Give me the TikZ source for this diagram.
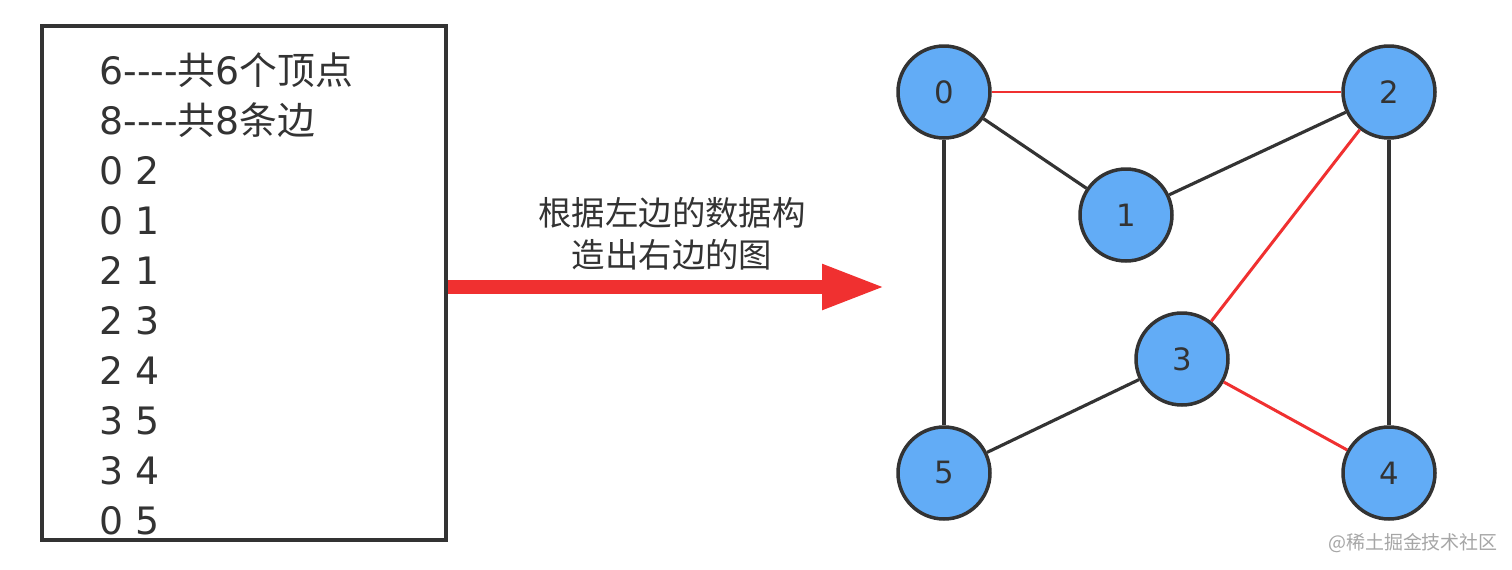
\documentclass[tikz,border=0pt]{standalone}
\usepackage{fontspec}
\setmainfont{DejaVu Sans}
\newfontfamily\cjk{Noto Sans CJK SC}
\usetikzlibrary{arrows.meta}
\definecolor{vblue}{RGB}{98,172,246}
\definecolor{ered}{RGB}{240,48,48}
\definecolor{ink}{RGB}{51,51,51}
\tikzset{
  vert/.style={circle, draw=ink, line width=2pt, fill=vblue, minimum size=1.84cm,
    inner sep=0pt, text=ink, font=\fontsize{17.5}{17.5}\selectfont},
  blackedge/.style={draw=ink, line width=1.8pt},
  rededge/.style={draw=ered, line width=1.7pt},
  listline/.style={anchor=base west, inner sep=0pt, text=ink, font=\fontsize{21.5}{26}\selectfont}
}
\begin{document}
\begin{tikzpicture}[x=0.02cm, y=-0.02cm]
  \useasboundingbox (0,0) rectangle (1512,569);
  \fill[white] (0,0) rectangle (1512,569);
  % input data
  \node[draw=ink, line width=1.8pt, minimum width=8.08cm, minimum height=10.28cm] (box) at (244,283) {};
  \foreach \t [count=\i from 0] in {{6-{}-{}-{}-{\cjk 共}6{\cjk 个顶点}},{8-{}-{}-{}-{\cjk 共}8{\cjk 条边}},
      {0 2},{0 1},{2 1},{2 3},{2 4},{3 5},{3 4},{0 5}}
    \node[listline] (l\i) at (99,84+50*\i) {\t};
  % arrow
  \coordinate (tip) at (885,287);
  \draw[ered, line width=0.28cm, -{Triangle[length=1.26cm, width=0.84cm]}] (box.east |- tip) -- (tip);
  \node[align=center, text=ink, inner sep=0pt, font=\cjk\fontsize{19}{23.8}\selectfont] (lbl) at (672,234)
    {根据左边的数据构\\造出右边的图};
  % graph
  \node[vert] (v0) at (944,92) {0};
  \node[vert] (v2) at (1389,92) {2};
  \node[vert] (v1) at (1126,215) {1};
  \node[vert] (v3) at (1182,359) {3};
  \node[vert] (v5) at (944,473) {5};
  \node[vert] (v4) at (1389,473) {4};
  \draw[rededge] (v0) -- (v2);
  \draw[blackedge] (v0) -- (v1);
  \draw[blackedge] (v2) -- (v1);
  \draw[rededge] (v2) -- (v3);
  \draw[blackedge] (v2) -- (v4);
  \draw[blackedge] (v3) -- (v5);
  \draw[rededge] (v3) -- (v4);
  \draw[blackedge] (v0) -- (v5);
  \node[text=gray!70, inner sep=0pt, font=\cjk\fontsize{10.8}{12}\selectfont] (wm) at (1413,543) {@稀土掘金技术社区};
\end{tikzpicture}
\end{document}
